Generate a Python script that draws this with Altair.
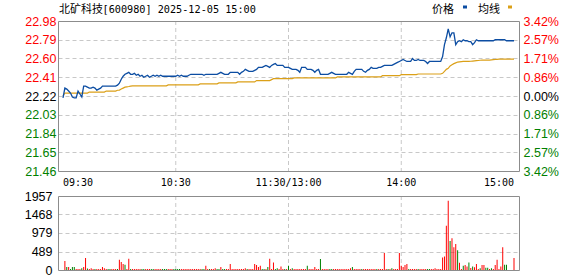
import altair as alt
import pandas as pd

# ---------------- data ----------------
PREV_CLOSE = 22.22
TITLE_NAME = "北矿科技"
TITLE_CODE = "[600980] 2025-12-05 15:00"
PRICE_TICKS = [21.46, 21.65, 21.84, 22.03, 22.22, 22.41, 22.60, 22.79, 22.98]
VOL_TICKS = [0, 489, 979, 1468, 1957]
TIME_TICKS = [0, 60, 120, 180, 240]
TIME_LABELS = ["09:30", "10:30", "11:30/13:00", "14:00", "15:00"]
LEGEND_LABELS = ["价格", "均线"]

PRICE = [
    22.20, 22.30, 22.29, 22.27, 22.25, 22.21, 22.20, 22.20, 22.27, 22.24,
    22.21, 22.32, 22.32, 22.31, 22.30, 22.30, 22.31, 22.30, 22.28, 22.29,
    22.30, 22.32, 22.32, 22.32, 22.32, 22.32, 22.32, 22.32, 22.32, 22.33,
    22.35, 22.39, 22.42, 22.44, 22.45, 22.46, 22.44, 22.44, 22.45, 22.43,
    22.44, 22.42, 22.43, 22.41, 22.42, 22.43, 22.41, 22.42, 22.43, 22.42,
    22.43, 22.42, 22.43, 22.42, 22.42, 22.42, 22.42, 22.42, 22.42, 22.42,
    22.42, 22.43, 22.42, 22.43, 22.42, 22.42, 22.42, 22.43, 22.44, 22.44,
    22.44, 22.44, 22.44, 22.44, 22.44, 22.43, 22.44, 22.44, 22.44, 22.44,
    22.44, 22.44, 22.44, 22.45, 22.46, 22.45, 22.44, 22.44, 22.44, 22.46,
    22.46, 22.46, 22.46, 22.46, 22.44, 22.46, 22.47, 22.49, 22.48, 22.47,
    22.47, 22.47, 22.48, 22.49, 22.51, 22.51, 22.51, 22.52, 22.53, 22.52,
    22.51, 22.53, 22.54, 22.55, 22.53, 22.53, 22.53, 22.53, 22.51, 22.51,
    22.51, 22.50, 22.49, 22.49, 22.49, 22.48, 22.46, 22.51, 22.51, 22.51,
    22.49, 22.49, 22.49, 22.48, 22.46, 22.48, 22.49, 22.44, 22.44, 22.44,
    22.44, 22.44, 22.45, 22.46, 22.45, 22.44, 22.44, 22.44, 22.44, 22.44,
    22.44, 22.44, 22.46, 22.45, 22.44, 22.47, 22.49, 22.49, 22.49, 22.49,
    22.47, 22.46, 22.48, 22.49, 22.51, 22.50, 22.50, 22.50, 22.51, 22.51,
    22.52, 22.53, 22.53, 22.53, 22.53, 22.53, 22.54, 22.55, 22.56, 22.57,
    22.58, 22.59, 22.58, 22.57, 22.57, 22.57, 22.60, 22.58, 22.58, 22.59,
    22.58, 22.58, 22.58, 22.57, 22.55, 22.57, 22.57, 22.57, 22.57, 22.57,
    22.57, 22.57, 22.62, 22.74, 22.81, 22.90, 22.82, 22.86, 22.86, 22.74,
    22.77, 22.78, 22.77, 22.79, 22.78, 22.78, 22.77, 22.77, 22.74, 22.76,
    22.79, 22.78, 22.78, 22.78, 22.78, 22.78, 22.78, 22.78, 22.78, 22.78,
    22.79, 22.79, 22.79, 22.79, 22.79, 22.79, 22.78, 22.78, 22.78, 22.78,
    22.78,
]

AVG = [
    22.22, 22.25, 22.25, 22.25, 22.25, 22.25, 22.25, 22.25, 22.25, 22.25,
    22.25, 22.25, 22.25, 22.25, 22.26, 22.26, 22.26, 22.26, 22.26, 22.26,
    22.26, 22.26, 22.26, 22.27, 22.27, 22.27, 22.27, 22.27, 22.27, 22.278,
    22.28, 22.29, 22.30, 22.31, 22.313, 22.316, 22.32, 22.322, 22.323, 22.323,
    22.323, 22.323, 22.323, 22.323, 22.323, 22.323, 22.323, 22.323, 22.323, 22.323,
    22.323, 22.323, 22.323, 22.323, 22.323, 22.323, 22.333, 22.333, 22.333, 22.333,
    22.333, 22.333, 22.333, 22.333, 22.333, 22.333, 22.333, 22.333, 22.333, 22.333,
    22.333, 22.333, 22.333, 22.343, 22.343, 22.343, 22.343, 22.343, 22.343, 22.343,
    22.343, 22.343, 22.343, 22.353, 22.353, 22.353, 22.353, 22.353, 22.353, 22.353,
    22.353, 22.353, 22.353, 22.363, 22.363, 22.363, 22.363, 22.363, 22.363, 22.363,
    22.363, 22.363, 22.363, 22.376, 22.376, 22.376, 22.376, 22.376, 22.376, 22.376,
    22.376, 22.386, 22.396, 22.396, 22.396, 22.396, 22.396, 22.396, 22.396, 22.396,
    22.396, 22.396, 22.396, 22.403, 22.403, 22.403, 22.403, 22.403, 22.403, 22.403,
    22.403, 22.403, 22.403, 22.403, 22.403, 22.403, 22.403, 22.403, 22.403, 22.403,
    22.403, 22.403, 22.403, 22.403, 22.403, 22.403, 22.413, 22.413, 22.413, 22.413,
    22.413, 22.413, 22.413, 22.413, 22.413, 22.413, 22.413, 22.413, 22.413, 22.413,
    22.413, 22.413, 22.413, 22.413, 22.413, 22.413, 22.413, 22.413, 22.413, 22.413,
    22.426, 22.426, 22.426, 22.426, 22.426, 22.426, 22.426, 22.426, 22.426, 22.426,
    22.436, 22.436, 22.436, 22.436, 22.436, 22.436, 22.436, 22.436, 22.436, 22.443,
    22.443, 22.443, 22.443, 22.443, 22.443, 22.443, 22.443, 22.443, 22.443, 22.443,
    22.443, 22.443, 22.45, 22.47, 22.49, 22.50, 22.525, 22.537, 22.548, 22.556,
    22.564, 22.566, 22.568, 22.57, 22.57, 22.57, 22.57, 22.572, 22.574, 22.576,
    22.578, 22.58, 22.582, 22.584, 22.584, 22.584, 22.584, 22.584, 22.586, 22.588,
    22.59, 22.592, 22.594, 22.594, 22.594, 22.594, 22.594, 22.594, 22.594, 22.594,
    22.594,
]

VOL = [
    0, 240, 80, 80, 25, 80, 80, 25, 25, 25,
    45, 80, 320, 40, 25, 45, 25, 25, 25, 25,
    25, 80, 45, 25, 25, 25, 25, 25, 25, 25,
    270, 210, 160, 140, 25, 300, 25, 25, 25, 25,
    25, 25, 25, 25, 25, 25, 25, 25, 25, 25,
    25, 25, 25, 25, 25, 25, 25, 25, 25, 25,
    25, 25, 25, 25, 25, 25, 25, 25, 25, 25,
    25, 25, 25, 25, 25, 25, 110, 25, 25, 25,
    25, 45, 25, 25, 80, 25, 25, 25, 25, 160,
    25, 25, 25, 25, 25, 25, 25, 45, 25, 25,
    25, 25, 160, 130, 80, 110, 25, 25, 25, 80,
    300, 25, 200, 25, 45, 25, 90, 25, 25, 25,
    110, 25, 45, 25, 25, 25, 25, 25, 25, 25,
    110, 25, 25, 25, 80, 25, 25, 290, 25, 25,
    25, 25, 25, 25, 25, 25, 25, 25, 25, 25,
    25, 25, 25, 45, 80, 25, 25, 25, 25, 25,
    25, 25, 25, 25, 25, 25, 25, 25, 25, 25,
    25, 450, 25, 25, 25, 45, 25, 25, 25, 450,
    110, 80, 130, 160, 25, 25, 25, 25, 25, 25,
    25, 25, 25, 25, 25, 25, 25, 25, 45, 25,
    25, 25, 330, 360, 1170, 1830, 770, 840, 600, 690,
    520, 190, 25, 110, 130, 90, 200, 50, 90, 70,
    160, 25, 45, 130, 130, 60, 60, 25, 45, 25,
    130, 270, 25, 90, 600, 140, 140, 0, 0, 0,
    320,
]

DIR = [
    "rrgrgggrrr", "grrgrrrgrr", "rrrrggrrrg", "rrrgrrgrrr", "rrggrrrggr",
    "rrrgggrrrg", "gggrrrrrrr", "rrrrggrrgr", "rrggrggrrr", "rrrrrrrrgr",
    "rrrrrrggrg", "rrrggrrrgr", "grgrrrrrrr", "grrrrrrgrr", "rrggrrrrrr",
    "rrrrgrrrrg", "rrrrrrrgrr", "rrrgrgrrrr", "rrrrgrrrrg", "rrrrggrrrr",
    "rrrrrrgrrr", "grrgrrgrgr", "rrgrrggrgr", "rrrrrggrrr", "r",
]

# ---------------- styling ----------------
BLUE = "#0c4da2"
ORANGE = "#dba018"
RED = "#ff0000"
GREEN = "#008000"
GRID = "#c8c8c8"
BORDER = "#8c8c8c"
SANS = "Liberation Sans"
MONO = "DejaVu Sans Mono"
CJK = "Noto Sans CJK SC"

W, H = 461, 249
P_RANGE = [150, 0]
V_RANGE = [249, 175]

df = pd.DataFrame({
    "m": list(range(len(PRICE))),
    "price": PRICE,
    "avg": AVG,
    "vol": VOL,
    "dir": list("".join(DIR)),
})
time_df = pd.DataFrame({"m": TIME_TICKS, "label": TIME_LABELS})

lo, hi = PRICE_TICKS[0], PRICE_TICKS[-1]
price_color = (f"datum.value > {PREV_CLOSE + 0.005} ? '{RED}' : "
               f"(datum.value < {PREV_CLOSE - 0.005} ? '{GREEN}' : '#000000')")
price_grid_op = f"datum.value < {lo + 0.01} || datum.value > {hi - 0.01} ? 0 : 1"
vol_grid_op = f"datum.value < 1 || datum.value > {VOL_TICKS[-1] - 1} ? 0 : 1"
pct_expr = f"format(abs(datum.value - {PREV_CLOSE}) / {PREV_CLOSE} * 100, '.2f') + '%'"

x_enc = alt.X(
    "m:Q",
    scale=alt.Scale(domain=[TIME_TICKS[0], TIME_TICKS[-1]], nice=False, zero=False),
    axis=None,
)

price_scale = alt.Scale(domain=[lo, hi], range=P_RANGE, nice=False, zero=False)

price_line = alt.Chart(df).mark_line(color=BLUE, strokeWidth=1.3).encode(
    x=x_enc,
    y=alt.Y("price:Q", scale=price_scale,
            axis=alt.Axis(orient="left", values=PRICE_TICKS, format=".2f",
                          labelColor={"expr": price_color},
                          grid=True, gridColor=GRID, gridDash=[4, 3],
                          gridOpacity={"expr": price_grid_op},
                          ticks=False, domain=False, labelPadding=2,
                          labelFont=SANS, labelFontSize=12.5,
                          labelOverlap=False, title=None)),
)

avg_line = alt.Chart(df).mark_line(color=ORANGE, strokeWidth=1.2).encode(
    x=x_enc,
    y=alt.Y("avg:Q", scale=price_scale,
            axis=alt.Axis(orient="right", values=PRICE_TICKS, labelExpr=pct_expr,
                          labelColor={"expr": price_color},
                          grid=False, ticks=False, domain=False, labelPadding=4,
                          labelFont=SANS, labelFontSize=12.5,
                          labelOverlap=False, title=None)),
)

bars = alt.Chart(df).mark_bar(size=1).encode(
    x=x_enc,
    y=alt.Y("vol:Q",
            scale=alt.Scale(domain=[VOL_TICKS[0], VOL_TICKS[-1]], range=V_RANGE,
                            nice=False, zero=True),
            axis=alt.Axis(orient="left", values=VOL_TICKS, format="d",
                          labelColor="#000000",
                          grid=True, gridColor=GRID, gridDash=[4, 3],
                          gridOpacity={"expr": vol_grid_op},
                          ticks=False, domain=False, labelPadding=6,
                          labelFont=SANS, labelFontSize=12.5,
                          labelOverlap=False, title=None)),
    color=alt.Color("dir:N", scale=alt.Scale(domain=["r", "g"], range=[RED, GREEN]),
                    legend=None),
)

vgrid_df = pd.DataFrame({"m": TIME_TICKS[1:-1]})
vgrid_price = alt.Chart(vgrid_df).mark_rule(color=GRID, strokeDash=[4, 3], strokeWidth=1).encode(
    x=x_enc, y=alt.value(0), y2=alt.value(150))
vgrid_vol = alt.Chart(vgrid_df).mark_rule(color=GRID, strokeDash=[4, 3], strokeWidth=1).encode(
    x=x_enc, y=alt.value(175), y2=alt.value(249))

# time labels between the panels
def time_text(sub, align):
    return alt.Chart(sub).mark_text(
        align=align, baseline="alphabetic", font=MONO, fontSize=10, color="#000000"
    ).encode(x=x_enc, y=alt.value(165), text="label:N")

tl_first = time_text(time_df.iloc[:1], "left")
tl_mid = time_text(time_df.iloc[1:-1], "center")
tl_last = time_text(time_df.iloc[-1:], "right")

one = pd.DataFrame({"k": [0]})
border_price = alt.Chart(one).mark_rect(fillOpacity=0, stroke=BORDER, strokeWidth=1).encode(
    x=alt.value(0.5), x2=alt.value(461.5), y=alt.value(0.5), y2=alt.value(150.5))
border_vol = alt.Chart(one).mark_rect(fillOpacity=0, stroke=BORDER, strokeWidth=1).encode(
    x=alt.value(0.5), x2=alt.value(461.5), y=alt.value(175.5), y2=alt.value(249.5))

title_cn = alt.Chart(pd.DataFrame({"t": [TITLE_NAME]})).mark_text(
    align="left", baseline="alphabetic", font=CJK, fontSize=11, color="#000000"
).encode(text="t:N", x=alt.value(1), y=alt.value(-8))
title_code = alt.Chart(pd.DataFrame({"t": [TITLE_CODE]})).mark_text(
    align="left", baseline="alphabetic", font=MONO, fontSize=10.2, color="#000000"
).encode(text="t:N", x=alt.value(44.5), y=alt.value(-8))

leg1 = alt.Chart(pd.DataFrame({"t": [LEGEND_LABELS[0]]})).mark_text(
    align="left", baseline="alphabetic", font=CJK, fontSize=11, color="#000000"
).encode(text="t:N", x=alt.value(374), y=alt.value(-8))
leg2 = alt.Chart(pd.DataFrame({"t": [LEGEND_LABELS[1]]})).mark_text(
    align="left", baseline="alphabetic", font=CJK, fontSize=11, color="#000000"
).encode(text="t:N", x=alt.value(420), y=alt.value(-8))
sw1 = alt.Chart(one).mark_rect(color=BLUE).encode(
    x=alt.value(405), x2=alt.value(409), y=alt.value(-15.5), y2=alt.value(-12.5))
sw2 = alt.Chart(one).mark_rect(color=ORANGE).encode(
    x=alt.value(450), x2=alt.value(454), y=alt.value(-15.5), y2=alt.value(-12.5))

chart = alt.layer(
    vgrid_price, vgrid_vol, bars, avg_line, price_line,
    border_price, border_vol, tl_first, tl_mid, tl_last,
    title_cn, title_code, leg1, leg2, sw1, sw2,
).resolve_scale(y="independent").properties(
    width=W, height=H,
    padding={"left": 58, "top": 21, "right": 59, "bottom": 6},
    autosize=alt.AutoSizeParams(type="none"),
).configure_view(strokeWidth=0)

chart.save("out.html", embed_options={"renderer": "svg", "actions": False})
